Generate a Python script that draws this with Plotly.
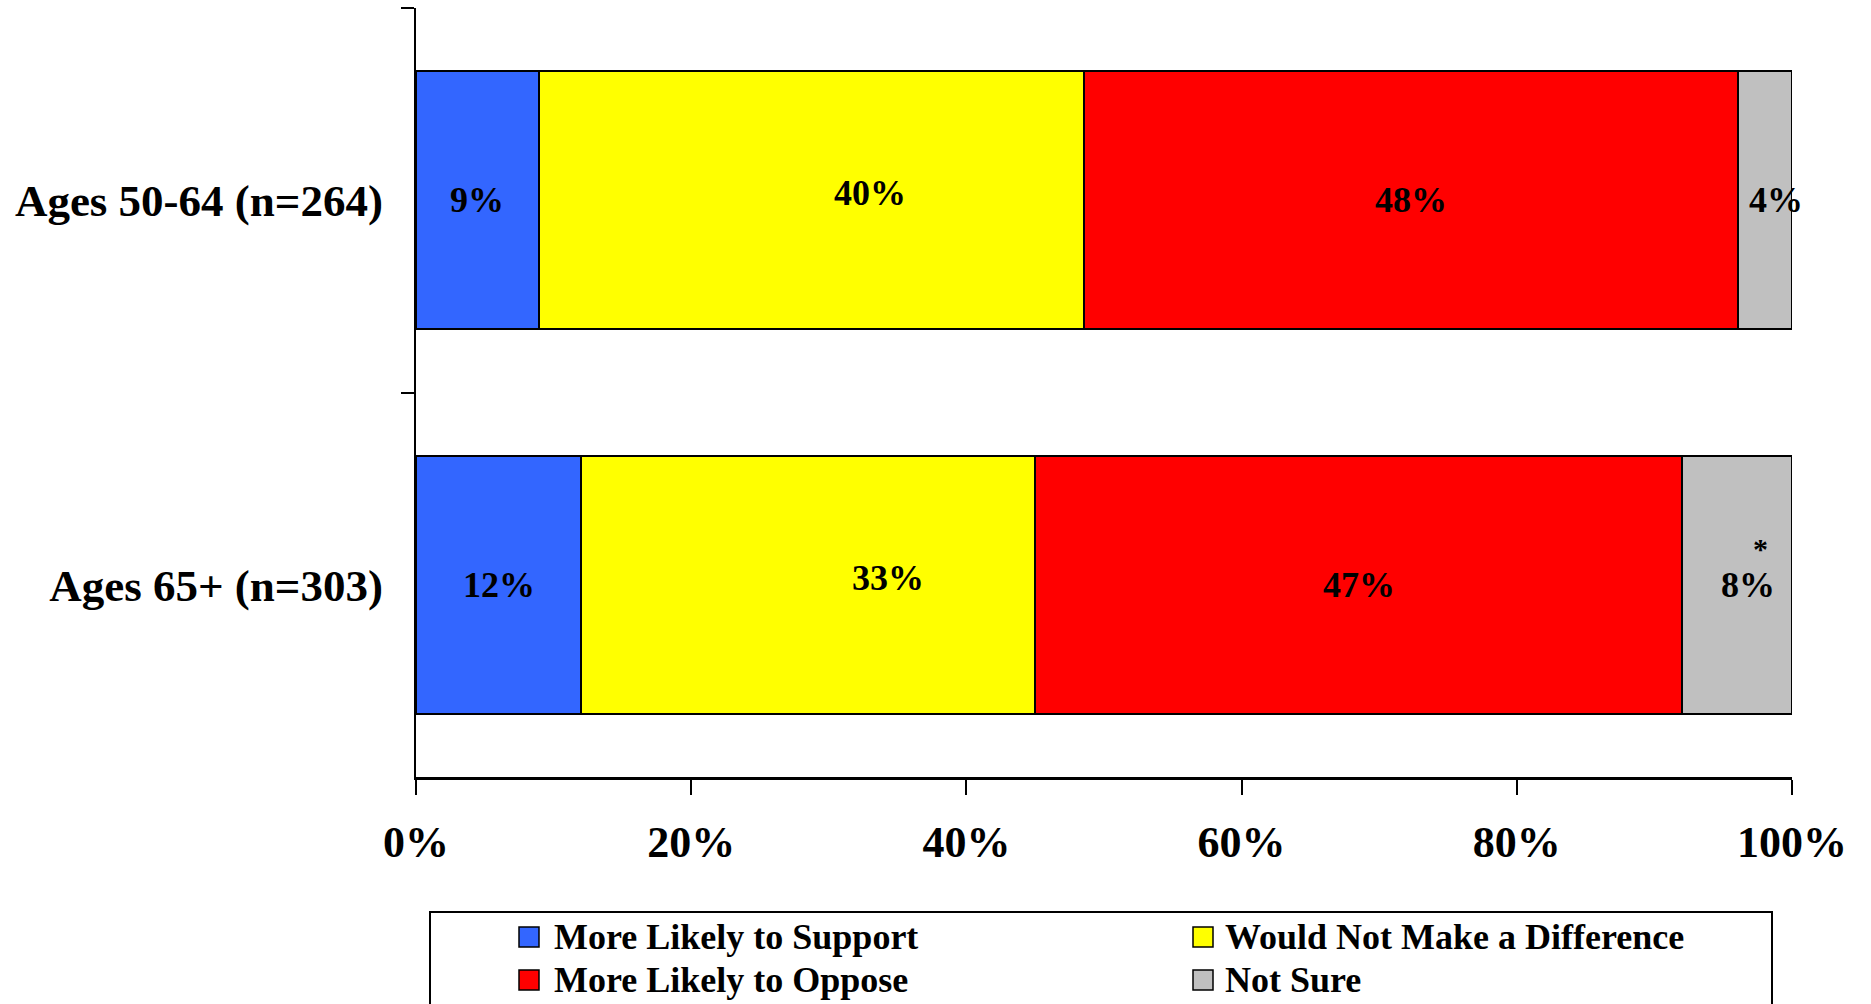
import plotly.graph_objects as go
import numpy as np

# ---- data ----
categories = ["Ages 50-64 (n=264)", "Ages 65+ (n=303)"]
series_names = ["More Likely to Support", "Would Not Make a Difference",
                "More Likely to Oppose", "Not Sure"]
support = [9, 12]
no_difference = [40, 33]
oppose = [48, 47]
not_sure = [4, 8]
x_tick_values = [0, 20, 40, 60, 80, 100]
x_tick_labels = ["0%", "20%", "40%", "60%", "80%", "100%"]
footnote_mark = "*"   # marks the 8% (Ages 65+, Not Sure) value

# ---- styles / layout ----
colors = ["#3366FF", "#FFFF00", "#FF0000", "#C0C0C0"]
FONT = "Times New Roman, Liberation Serif, serif"
W, H = 1871, 1004
ML, MR, MT, MB = 416, 79, 8, 227
# per-label pixel nudges (series index, category index) -> (dx, dy)
label_nudge = {(1, 0): (59, 7), (1, 1): (80, 7), (3, 0): (11, 0), (3, 1): (11, 0)}

PW, PH = W - ML - MR, H - MT - MB


def px_x(px):  # figure pixel -> paper x
    return (px - ML) / PW


def px_y(py):  # figure pixel -> paper y
    return (H - MB - py) / PH


series = [support, no_difference, oppose, not_sure]

fig = go.Figure()
for name, vals, col in zip(series_names, series, colors):
    fig.add_trace(go.Bar(
        y=categories, x=vals, name=name, orientation="h",
        marker=dict(color=col, line=dict(color="black", width=2)),
        hovertemplate="%{y}<br>" + name + ": %{x:.0f}%<extra></extra>",
        showlegend=False,
    ))

# label positions derived from data (100%-stacked)
arr = np.array(series, dtype=float)
norm = arr / arr.sum(axis=0) * 100
cum = np.cumsum(norm, axis=0)
mid = cum - norm / 2

annotations = []
for si in range(arr.shape[0]):
    for ci, cat in enumerate(categories):
        dx, dy = label_nudge.get((si, ci), (0, 0))
        annotations.append(dict(
            x=mid[si, ci], y=cat, xref="x", yref="y",
            text=f"{series[si][ci]}%", showarrow=False,
            xshift=dx, yshift=dy,
            font=dict(family=FONT, size=36, color="black", weight="bold"),
        ))
annotations.append(dict(
    x=mid[3, 1], y=categories[1], xref="x", yref="y",
    text=footnote_mark, showarrow=False, xshift=24, yshift=36,
    font=dict(family=FONT, size=30, color="black", weight="bold"),
))

# ---- legend (two columns, box running off the bottom edge) ----
shapes = [dict(
    type="rect", xref="paper", yref="paper",
    x0=px_x(430), x1=px_x(1772), y0=px_y(912), y1=px_y(1012),
    line=dict(color="black", width=2), fillcolor="rgba(0,0,0,0)",
)]
col_swatch_x = [519, 1193]
col_text_x = [552, 1223]
row_y = [937, 980]
SW = 20
for i, (name, col) in enumerate(zip(series_names, colors)):
    c, r = i % 2, i // 2
    sx, cy = col_swatch_x[c], row_y[r]
    shapes.append(dict(
        type="rect", xref="paper", yref="paper",
        x0=px_x(sx), x1=px_x(sx + SW), y0=px_y(cy - SW / 2), y1=px_y(cy + SW / 2),
        line=dict(color="black", width=1.5), fillcolor=col,
    ))
    annotations.append(dict(
        x=px_x(col_text_x[c]), y=px_y(cy), xref="paper", yref="paper",
        xanchor="left", yanchor="middle", text=name, showarrow=False,
        font=dict(family=FONT, size=36, color="black", weight="bold"),
    ))

fig.update_layout(
    width=W, height=H,
    margin=dict(l=ML, r=MR, t=MT, b=MB, pad=0),
    paper_bgcolor="white", plot_bgcolor="white",
    barmode="stack", barnorm="percent", bargap=0.33,
    font=dict(family=FONT, color="black"),
    annotations=annotations,
    shapes=shapes,
    showlegend=False,
)

fig.update_xaxes(
    range=[0, 100], tickvals=x_tick_values, ticktext=x_tick_labels,
    ticks="outside", ticklen=15, tickwidth=1.5, tickcolor="black",
    showline=True, linecolor="black", linewidth=2.5,
    showgrid=False, zeroline=False, ticklabelstandoff=9,
    tickfont=dict(family=FONT, size=44, color="black", weight="bold"),
)
fig.update_yaxes(
    categoryorder="array", categoryarray=categories, autorange="reversed",
    ticks="outside", ticklen=13, tickwidth=1.5, tickcolor="black", tickson="boundaries",
    showline=True, linecolor="black", linewidth=2,
    showgrid=False, zeroline=False, ticklabelstandoff=22,
    tickfont=dict(family=FONT, size=45, color="black", weight="bold"),
)

fig.write_html("out.html", config={"displayModeBar": False},
               post_script="document.body.style.margin='0';")
